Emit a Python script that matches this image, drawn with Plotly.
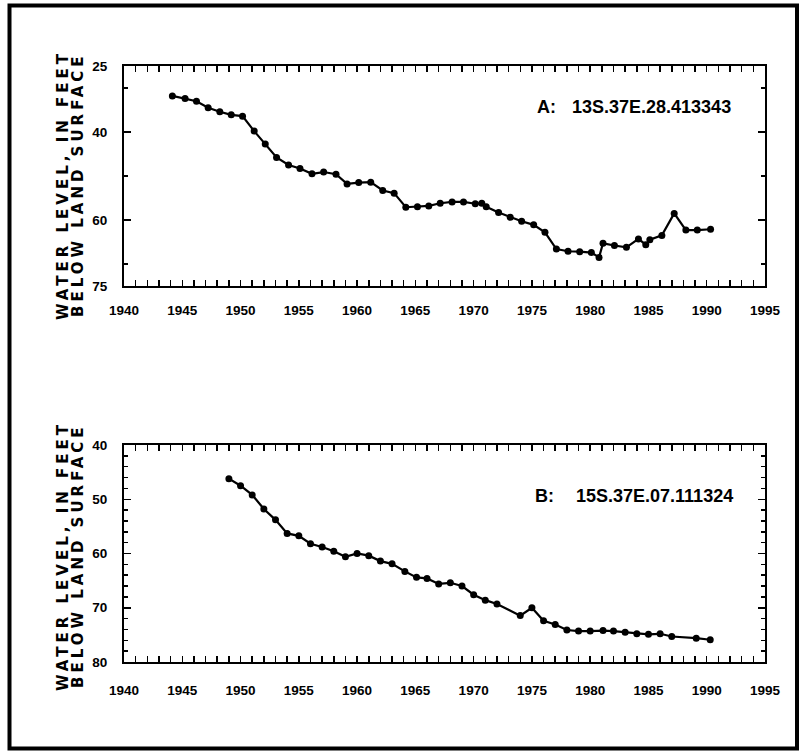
import plotly.graph_objects as go

# ---- data ----
top_years = [1944.15, 1945.24, 1946.22, 1947.22, 1948.22, 1949.2, 1950.17, 1951.17, 1952.12, 1953.09,
             1954.12, 1955.1, 1956.13, 1957.13, 1958.19, 1959.14, 1960.14, 1961.17, 1962.2, 1963.18,
             1964.18, 1965.18, 1966.15, 1967.13, 1968.15, 1969.13, 1970.14, 1970.7, 1971.08, 1972.14,
             1973.14, 1974.12, 1975.15, 1976.12, 1977.1, 1978.1, 1979.1, 1980.1, 1980.76, 1981.1,
             1982.08, 1983.11, 1984.14, 1984.77, 1985.12, 1986.15, 1987.21, 1988.21, 1989.19, 1990.33]
top_levels = [31.8, 32.4, 33.0, 34.5, 35.4, 36.1, 36.4, 39.8, 42.7, 45.8,
              47.5, 48.3, 49.5, 49.1, 49.6, 51.8, 51.5, 51.4, 53.3, 53.9,
              57.1, 57.0, 56.8, 56.2, 55.9, 55.9, 56.3, 56.2, 57.0, 58.3,
              59.4, 60.3, 61.1, 62.8, 66.6, 67.1, 67.2, 67.4, 68.5, 65.3,
              65.8, 66.2, 64.3, 65.6, 64.5, 63.5, 58.5, 62.3, 62.3, 62.1]

bot_years = [1949.0, 1950.0, 1951.0, 1952.0, 1953.0, 1954.0, 1955.0, 1956.0, 1957.0, 1958.0,
             1959.0, 1960.0, 1961.0, 1962.0, 1963.0, 1964.1, 1965.1, 1966.0, 1967.0, 1968.0,
             1969.0, 1970.0, 1971.0, 1972.0, 1974.0, 1975.0, 1976.0, 1977.0, 1978.0, 1979.0,
             1980.0, 1981.1, 1982.0, 1983.0, 1984.0, 1985.0, 1986.0, 1987.0, 1989.1, 1990.3]
bot_levels = [46.2, 47.5, 49.2, 51.8, 53.8, 56.3, 56.75, 58.2, 58.8, 59.6,
              60.6, 60.0, 60.4, 61.4, 61.9, 63.3, 64.4, 64.6, 65.6, 65.4,
              66.0, 67.6, 68.6, 69.3, 71.45, 70.0, 72.4, 73.1, 74.1, 74.3,
              74.3, 74.2, 74.3, 74.5, 74.8, 74.9, 74.8, 75.3, 75.6, 75.9]

x_ticks = [1940, 1945, 1950, 1955, 1960, 1965, 1970, 1975, 1980, 1985, 1990, 1995]
x_minor = list(range(1940, 1996))
top_yticks = [25, 40, 60, 75]
top_yminor = [30, 40, 50, 60, 70]
bot_yticks = [40, 50, 60, 70, 80]
bot_yminor = list(range(40, 81, 2))

well_a = ["A:", "13S.37E.28.413343"]
well_b = ["B:", "15S.37E.07.111324"]
title_lines = ["WATER LEVEL, IN FEET", "BELOW LAND SURFACE"]

W, H = 804, 753


def px(x):
    return x / W


def py(y):
    return 1 - y / H


fig = go.Figure()
line = dict(color="black", width=2.2)
marker = dict(color="black", size=7)
fig.add_trace(go.Scatter(x=top_years, y=top_levels, mode="lines+markers", line=line,
                         marker=marker, xaxis="x", yaxis="y", showlegend=False))
fig.add_trace(go.Scatter(x=bot_years, y=bot_levels, mode="lines+markers", line=line,
                         marker=marker, xaxis="x2", yaxis="y2", showlegend=False))

tickfont = dict(family="Liberation Sans", size=13.5, color="black", weight="bold")
xdom = [px(124), px(765)]


def xaxis(anchor, standoff):
    return dict(domain=xdom, anchor=anchor, range=[1940, 1995], tickmode="array",
                tickvals=x_ticks, ticktext=[str(v) for v in x_ticks], ticks="inside",
                ticklen=6, tickwidth=1.5, tickcolor="black", showline=True, linewidth=2,
                linecolor="black", mirror="ticks", showgrid=False, zeroline=False,
                tickfont=tickfont, ticklabelstandoff=standoff, automargin=False,
                minor=dict(tickmode="array", tickvals=x_minor, ticks="inside", ticklen=6,
                           tickwidth=1.5, tickcolor="black", showgrid=False))


def yaxis(anchor, dom, rng, vals, minor_vals):
    return dict(domain=dom, anchor=anchor, range=rng, tickmode="array", tickvals=vals,
                ticktext=[str(v) for v in vals], ticks="inside", ticklen=7, tickwidth=1.5,
                tickcolor="black", showline=True, linewidth=2, linecolor="black",
                mirror="ticks", showgrid=False, zeroline=False, tickfont=tickfont,
                ticklabelstandoff=12, automargin=False,
                minor=dict(tickmode="array", tickvals=minor_vals, ticks="inside", ticklen=4,
                           tickwidth=1.5, tickcolor="black", showgrid=False))


fig.update_layout(
    width=W, height=H, autosize=False,
    margin=dict(l=0, r=0, t=0, b=0, pad=0, autoexpand=False),
    paper_bgcolor="white", plot_bgcolor="white",
    xaxis=xaxis("y", 11),
    yaxis=yaxis("x", [py(286), py(66)], [75, 25], top_yticks, top_yminor),
    xaxis2=xaxis("y2", 15),
    yaxis2=yaxis("x2", [py(662), py(445)], [80, 40], bot_yticks, bot_yminor),
)

# outer frame
fig.add_shape(type="rect", xref="paper", yref="paper", x0=px(9.5), x1=px(797),
              y0=py(748.5), y1=py(5.5), line=dict(color="black", width=4))

labfont = dict(family="Liberation Sans", size=18, color="black", weight="bold")
fig.add_annotation(xref="paper", yref="paper", x=px(535), y=py(107.5), text=well_a[0],
                   showarrow=False, xanchor="left", yanchor="middle", font=labfont)
fig.add_annotation(xref="paper", yref="paper", x=px(733), y=py(107.5), text=well_a[1],
                   showarrow=False, xanchor="right", yanchor="middle", font=labfont)
fig.add_annotation(xref="paper", yref="paper", x=px(533), y=py(496), text=well_b[0],
                   showarrow=False, xanchor="left", yanchor="middle", font=labfont)
fig.add_annotation(xref="paper", yref="paper", x=px(735), y=py(496), text=well_b[1],
                   showarrow=False, xanchor="right", yanchor="middle", font=labfont)

tfont = dict(family="DejaVu Sans", size=15, color="black", weight="bold")
for yc in (185, 556):
    for xc, txt in zip((63, 78), title_lines):
        fig.add_annotation(xref="paper", yref="paper", x=px(xc), y=py(yc),
                           text='<span style="letter-spacing:4px">' + txt + '</span>',
                           showarrow=False, textangle=-90, xanchor="center", yanchor="middle",
                           font=tfont)

fig.write_html("out.html", config={"displayModeBar": False, "staticPlot": True},
               post_script="document.body.style.margin='0px';")
